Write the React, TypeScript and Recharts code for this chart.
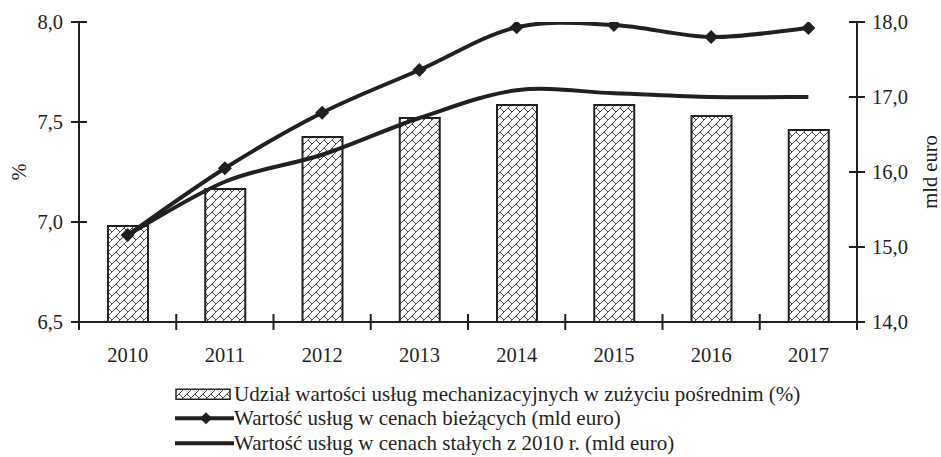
import { ComposedChart, Bar, Line, XAxis, YAxis, Legend, Label } from "recharts"

const years = ["2010", "2011", "2012", "2013", "2014", "2015", "2016", "2017"]
const shareOfServices = [6.98, 7.165, 7.425, 7.52, 7.585, 7.585, 7.53, 7.46]
const currentPrices = [15.16, 16.05, 16.79, 17.36, 17.93, 17.96, 17.8, 17.92]
const constantPrices = [15.16, 15.87, 16.23, 16.72, 17.09, 17.05, 17.0, 17.0]
const leftTicks = [6.5, 7.0, 7.5, 8.0]
const rightTicks = [14, 15, 16, 17, 18]

const legendLabels = [
  "Udział wartości usług mechanizacyjnych w zużyciu pośrednim (%)",
  "Wartość usług w cenach bieżących (mld euro)",
  "Wartość usług w cenach stałych z 2010 r. (mld euro)",
]

const data = years.map((year, i) => ({
  year,
  share: shareOfServices[i],
  current: currentPrices[i],
  constant: constantPrices[i],
}))

const INK = "#231f20"
const FONT = "'Liberation Serif', 'Times New Roman', serif"
const FS = 20.5
const LEGEND_FS = 21
const PLOT_LEFT = 79
const PLOT_RIGHT = 857
const BAND = (PLOT_RIGHT - PLOT_LEFT) / years.length
const ROW = 24.5

const fmt = (v: number) => v.toFixed(1).replace(".", ",")

// Excel-like smoothed line (Catmull-Rom through every point)
const smoothCurve = (ctx: any) => {
  let pts: [number, number][] = []
  return {
    areaStart() {},
    areaEnd() {},
    lineStart() {
      pts = []
    },
    point(x: number, y: number) {
      pts.push([+x, +y])
    },
    lineEnd() {
      if (!pts.length) return
      ctx.moveTo(pts[0][0], pts[0][1])
      for (let i = 0; i < pts.length - 1; i++) {
        const p0 = pts[i - 1] || pts[i]
        const p1 = pts[i]
        const p2 = pts[i + 1]
        const p3 = pts[i + 2] || p2
        ctx.bezierCurveTo(
          p1[0] + (p2[0] - p0[0]) / 6,
          p1[1] + (p2[1] - p0[1]) / 6,
          p2[0] - (p3[0] - p1[0]) / 6,
          p2[1] - (p3[1] - p1[1]) / 6,
          p2[0],
          p2[1],
        )
      }
    },
  }
}

const Diamond = ({ cx, cy, r = 7 }: { cx: number; cy: number; r?: number }) => (
  <polygon
    points={`${cx},${cy - r} ${cx + r},${cy} ${cx},${cy + r} ${cx - r},${cy}`}
    fill={INK}
  />
)

const LeftTick = (props: any) => {
  const { x, y, payload } = props
  return (
    <g>
      <line x1={x - 8} x2={x + 8} y1={y} y2={y} stroke={INK} strokeWidth={2} />
      <text x={x - 16} y={y} dy="0.35em" textAnchor="end" fontFamily={FONT} fontSize={FS} fill={INK}>
        {fmt(payload.value)}
      </text>
    </g>
  )
}

const RightTick = (props: any) => {
  const { x, y, payload } = props
  return (
    <g>
      <line x1={x - 8} x2={x + 8} y1={y} y2={y} stroke={INK} strokeWidth={2} />
      <text x={x + 15} y={y} dy="0.35em" textAnchor="start" fontFamily={FONT} fontSize={FS} fill={INK}>
        {fmt(payload.value)}
      </text>
    </g>
  )
}

const YearTick = (props: any) => {
  const { x, y, payload, index } = props
  return (
    <g>
      {index === 0 && (
        <line x1={x - BAND / 2} x2={x - BAND / 2} y1={y - 8} y2={y + 8} stroke={INK} strokeWidth={2} />
      )}
      <line x1={x + BAND / 2} x2={x + BAND / 2} y1={y - 8} y2={y + 8} stroke={INK} strokeWidth={2} />
      <text x={x} y={y + 33} dy="0.35em" textAnchor="middle" fontFamily={FONT} fontSize={FS} fill={INK}>
        {payload.value}
      </text>
    </g>
  )
}

const LegendBox = () => (
  <div style={{ marginLeft: 175, height: ROW * 3, fontFamily: FONT, fontSize: LEGEND_FS, color: INK, textAlign: "left" }}>
    {legendLabels.map((label, i) => (
      <div key={label} style={{ height: ROW, lineHeight: `${ROW}px`, display: "flex", alignItems: "center" }}>
        <svg width={59} height={ROW} style={{ flex: "none" }}>
          {i === 0 ? (
            <rect x={1} y={ROW / 2 - 5} width={54} height={10} fill="url(#brick)" stroke={INK} strokeWidth={1.5} />
          ) : (
            <>
              <line x1={0} x2={59} y1={ROW / 2} y2={ROW / 2} stroke={INK} strokeWidth={4} />
              {i === 1 && <Diamond cx={31} cy={ROW / 2} r={6} />}
            </>
          )}
        </svg>
        <span style={{ whiteSpace: "nowrap" }}>{label}</span>
      </div>
    ))}
  </div>
)

export default function App() {
  return (
    <div style={{ position: "absolute", left: 0, top: 0, background: "#fff" }}>
      <ComposedChart
        width={941}
        height={457}
        data={data}
        margin={{ top: 22, right: 0, bottom: 2, left: 0 }}
        barCategoryGap={0}
      >
        <defs>
          <pattern id="brick" width={8} height={8} patternUnits="userSpaceOnUse">
            <rect width={8} height={8} fill="#fff" />
            <path d="M-1,9 L9,-1 M4,4 L8,8" stroke="#444" strokeWidth={1} fill="none" />
          </pattern>
        </defs>
        <XAxis
          dataKey="year"
          axisLine={{ stroke: INK, strokeWidth: 2 }}
          tickLine={false}
          tickSize={0}
          tickMargin={0}
          height={59.5}
          tick={<YearTick />}
          interval={0}
        />
        <YAxis
          yAxisId="left"
          domain={[6.5, 8]}
          ticks={leftTicks}
          width={PLOT_LEFT}
          axisLine={{ stroke: INK, strokeWidth: 2 }}
          tickLine={false}
          tickSize={0}
          tickMargin={0}
          tick={<LeftTick />}
          allowDataOverflow
        >
          <Label
            content={() => (
              <text x={19} y={172} transform="rotate(-90 19 172)" textAnchor="middle" dy="0.35em" fontFamily={FONT} fontSize={FS} fill={INK}>
                %
              </text>
            )}
          />
        </YAxis>
        <YAxis
          yAxisId="right"
          orientation="right"
          domain={[14, 18]}
          ticks={rightTicks}
          width={941 - PLOT_RIGHT}
          axisLine={{ stroke: INK, strokeWidth: 2 }}
          tickLine={false}
          tickSize={0}
          tickMargin={0}
          tick={<RightTick />}
          allowDataOverflow
        >
          <Label
            content={() => (
              <text x={930} y={172} transform="rotate(-90 930 172)" textAnchor="middle" dy="0.35em" fontFamily={FONT} fontSize={FS} fill={INK}>
                mld euro
              </text>
            )}
          />
        </YAxis>
        <Bar
          yAxisId="left"
          dataKey="share"
          barSize={40}
          fill="url(#brick)"
          stroke={INK}
          strokeWidth={2}
          isAnimationActive={false}
        />
        <Line
          yAxisId="right"
          dataKey="constant"
          type={smoothCurve as any}
          stroke={INK}
          strokeWidth={4}
          dot={false}
          activeDot={false}
          isAnimationActive={false}
        />
        <Line
          yAxisId="right"
          dataKey="current"
          type={smoothCurve as any}
          stroke={INK}
          strokeWidth={4}
          dot={(p: any) => <Diamond key={`d-${p.index}`} cx={p.cx} cy={p.cy} />}
          activeDot={false}
          isAnimationActive={false}
        />
        <Legend verticalAlign="bottom" content={() => <LegendBox />} />
      </ComposedChart>
    </div>
  )
}
